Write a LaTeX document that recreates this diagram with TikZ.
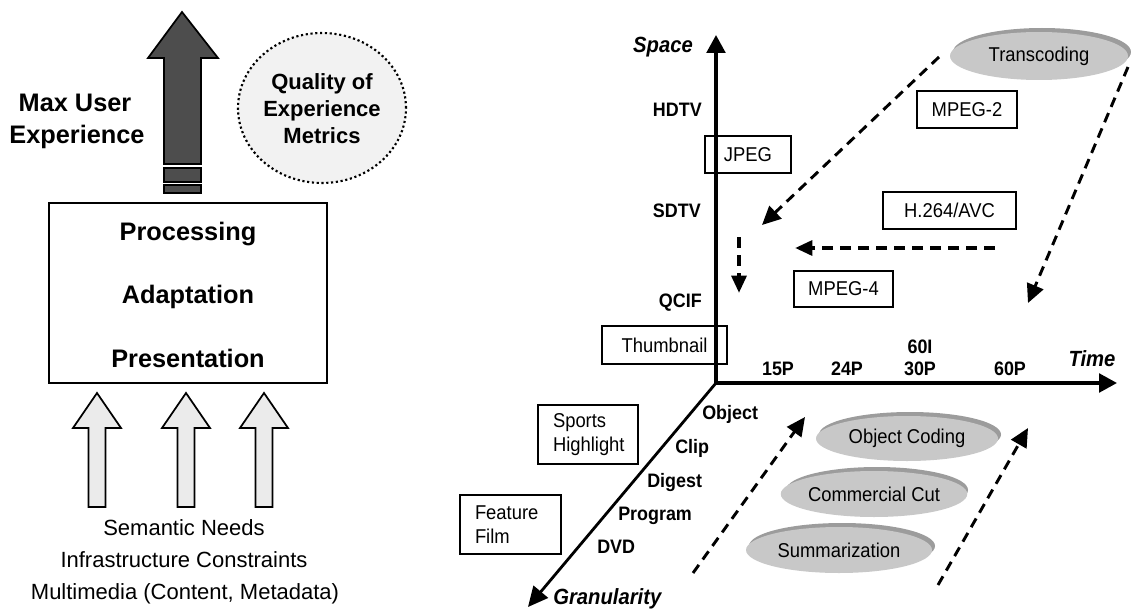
\documentclass[tikz,border=0pt]{standalone}
\usepackage{fontspec}
\setmainfont{Liberation Sans}
\newfontfamily\condsans[FakeStretch=0.92]{Liberation Sans}
\usetikzlibrary{arrows.meta,shapes.geometric}

\definecolor{darkfill}{HTML}{4D4D4D}
\definecolor{lightfill}{HTML}{EBEBEB}
\definecolor{qoefill}{HTML}{F2F2F2}
\definecolor{ellfront}{HTML}{C8C8C8}
\definecolor{ellrim}{HTML}{9C9C9C}

\tikzset{
  bigtxt/.style={font=\fontsize{19}{23}\selectfont\bfseries, anchor=base, inner sep=0pt},
  qoetxt/.style={font=\fontsize{16.5}{20.25}\selectfont\bfseries, align=center},
  reqtxt/.style={font=\fontsize{16.5}{20}\selectfont, anchor=base, inner sep=0pt},
  axlbl/.style={font=\condsans\fontsize{16.5}{18}\selectfont\bfseries\itshape, inner sep=0pt},
  tick/.style={font=\condsans\fontsize{14.6}{16}\selectfont\bfseries, inner sep=0pt},
  codec/.style={draw, line width=0.9pt, inner sep=0pt, font=\condsans\fontsize{15}{17}\selectfont},
  notebox/.style={draw, line width=0.9pt, inner xsep=11.25pt, inner ysep=0pt, align=left,
    font=\condsans\fontsize{15}{17.5}\selectfont},
  ellnode/.style={ellipse, fill=ellfront, inner sep=0pt, font=\condsans\fontsize{15}{17}\selectfont},
  darkarrow/.style={draw=black, line width=1.3pt, fill=darkfill, line join=miter},
  lightarrow/.style={draw=black, line width=1.3pt, fill=lightfill, line join=miter},
  axis/.style={line width=2.6pt, -{Triangle[length=13.5pt,width=14pt]}},
  dasharrow/.style={line width=2.2pt, dash pattern=on 7.5pt off 5pt, -{Triangle[length=14pt,width=13pt]}},
  thickdash/.style={line width=3pt, dash pattern=on 8.5pt off 5pt, -{Triangle[length=13pt,width=11pt]}},
}

\begin{document}
\begin{tikzpicture}[x=0.75pt,y=-0.75pt]
\useasboundingbox (0,0) rectangle (1131,610);

% ---------- left: adaptation pipeline ----------
% upward output arrow with stripes
\draw[darkarrow] (182,12) -- (218,58) -- (201,58) -- (201,164) -- (164,164)
  -- (164,58) -- (148,58) -- cycle;
\draw[darkarrow] (164,168) rectangle (201,182);
\draw[darkarrow] (164,185) rectangle (201,193);

\node[bigtxt] (maxa) at (75,112) {Max User};
\node[bigtxt] (maxb) at (77,143) {Experience};

\node[ellipse, draw, dotted, line width=1.6pt, fill=qoefill, minimum width=126pt,
      minimum height=112.5pt, inner sep=0pt] (qoe) at (322,108) {};
\node[qoetxt] at (322,109) {Quality of\\Experience\\Metrics};

% processing block
\node[draw, line width=1.8pt, minimum width=208.5pt, minimum height=135pt, inner sep=0pt]
  (proc) at (188,293) {};
\node[bigtxt] (p1) at (188,240) {Processing};
\node[bigtxt] (p2) at (188,303) {Adaptation};
\node[bigtxt] (p3) at (188,367) {Presentation};

% three input arrows
\foreach \cx in {97,186,264}{
  \draw[lightarrow] (\cx,393) -- (\cx+24,428) -- (\cx+8.5,428) -- (\cx+8.5,507)
    -- (\cx-8.5,507) -- (\cx-8.5,428) -- (\cx-24,428) -- cycle;
}

\node[reqtxt] (r1) at (184,535) {Semantic Needs};
\node[reqtxt] (r2) at (184,567) {Infrastructure Constraints};
\node[reqtxt] (r3) at (185,599) {Multimedia (Content, Metadata)};

% ---------- right: adaptation space ----------
\coordinate (origin) at (716,383);
\coordinate (spaceend) at (716,35);
\coordinate (timeend) at (1117,383);
\coordinate (granend) at (528,607);

\draw[axis] (origin) -- (spaceend);
\draw[axis] (origin) -- (timeend);
\draw[line width=2.1pt, -{Triangle[length=15pt,width=14pt]}] (origin) -- (granend);

\node[axlbl, anchor=base] (space) at (663,53) {Space};
\node[axlbl, anchor=base] (time) at (1092,366) {Time};
\node[axlbl, anchor=base west] (gran) at (553,604) {Granularity};

% spatial resolutions
\node[tick, anchor=base east] at (702,117) {HDTV};
\node[tick, anchor=base east] at (701,217) {SDTV};
\node[tick, anchor=base east] at (702,307) {QCIF};

% temporal rates
\node[tick, anchor=base] at (778,375) {15P};
\node[tick, anchor=base] at (847,375) {24P};
\node[tick, anchor=base] at (920,375) {30P};
\node[tick, anchor=base] at (920,353) {60I};
\node[tick, anchor=base] at (1010,375) {60P};

% granularity levels
\node[tick, anchor=base west] at (702,419) {Object};
\node[tick, anchor=base west] at (675,453) {Clip};
\node[tick, anchor=base west] at (647,487) {Digest};
\node[tick, anchor=base west] at (618,520) {Program};
\node[tick, anchor=base west] at (597,553) {DVD};

% formats and content types
\node[codec, minimum width=64.5pt, minimum height=27.75pt] (jpeg) at (748,154.5) {JPEG};
\node[codec, minimum width=93.75pt, minimum height=28.5pt] (thumb) at (664.5,345) {Thumbnail};
\node[codec, minimum width=75pt, minimum height=27.75pt] (mpeg2) at (967,109.5) {MPEG-2};
\node[codec, minimum width=99.75pt, minimum height=27.75pt] (h264) at (949.5,210.5) {H.264/AVC};
\node[codec, minimum width=74.25pt, minimum height=27pt] (mpeg4) at (843.5,289) {MPEG-4};
\node[notebox, text width=52.5pt, minimum height=44.25pt] (sports) at (588,434.5) {Sports\\Highlight};
\node[notebox, text width=53.25pt, minimum height=44.25pt] (feature) at (510.5,524.5) {Feature\\Film};

% adaptation operations (raised ellipses)
\fill[ellrim] (1042,52) ellipse [x radius=89, y radius=24];
\node[ellnode, minimum width=133.5pt, minimum height=36pt] (trans) at (1039,56) {\raisebox{-2pt}{Transcoding}};
\fill[ellrim] (910,434.5) ellipse [x radius=91, y radius=22.5];
\node[ellnode, minimum width=136.5pt, minimum height=33.75pt] (objc) at (907,438.5) {\raisebox{-2pt}{Object Coding}};
\fill[ellrim] (877,490) ellipse [x radius=91, y radius=23];
\node[ellnode, minimum width=136.5pt, minimum height=34.5pt] (comm) at (874,494) {\raisebox{-2pt}{Commercial Cut}};
\fill[ellrim] (842,546) ellipse [x radius=93, y radius=23];
\node[ellnode, minimum width=139.5pt, minimum height=34.5pt] (summ) at (839,550) {\raisebox{-2pt}{Summarization}};

% adaptation directions
\coordinate (tA) at (939,57);
\coordinate (tAend) at (762,225);
\coordinate (tB) at (1128,67);
\coordinate (tBend) at (1028,303);
\coordinate (hA) at (995,248);
\coordinate (hAend) at (795,248);
\coordinate (vA) at (739,237);
\coordinate (vAend) at (739,293);
\coordinate (gA) at (693,573);
\coordinate (gAend) at (805,417);
\coordinate (gB) at (938,585);
\coordinate (gBend) at (1028,428);

\draw[dasharrow] (tA) -- (tAend);
\draw[dasharrow] (tB) -- (tBend);
\draw[thickdash] (hA) -- (hAend);
\draw[thickdash] (vA) -- (vAend);
\draw[dasharrow] (gA) -- (gAend);
\draw[dasharrow] (gB) -- (gBend);
\end{tikzpicture}
\end{document}
